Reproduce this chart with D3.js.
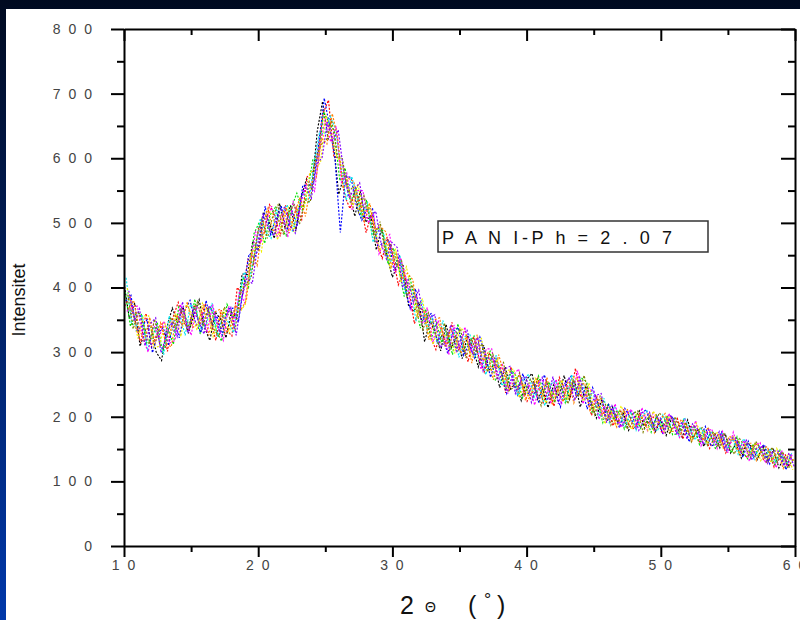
<!DOCTYPE html>
<html>
<head>
<meta charset="utf-8">
<script src="https://cdn.jsdelivr.net/npm/d3@7"></script>
<style>
  html, body { margin: 0; padding: 0; background: #000a22; }
  svg { display: block; }
</style>
</head>
<body>
<svg id="chart" width="800" height="620"></svg>
<script>
// ---- X-ray diffraction scans of PANI-Ph: intensity vs 2θ ----
// every scan is sampled on a 0.4° grid, each starting at its own small 2θ offset
const twoThetaStart = 10;
const twoThetaStep = 0.4;
const scanOffsets = [0, 0.04, 0.08, 0.12, 0.16, 0.20, 0.24, 0.28, 0.32, 0.36];
const scanColors = ["#000000", "#ff0000", "#00e000", "#0000ff", "#00e8f0",
                    "#ff00ff", "#f0f000", "#808000", "#ff8000", "#8000ff"];

const scanBlack = [
  407,352,376,309,335,339,300,287,339,368,
  346,370,329,357,381,338,318,362,351,322,
  362,352,421,420,472,457,517,502,476,530,
  492,527,487,540,568,553,642,688,630,626,
  544,573,548,510,549,501,511,458,492,449,
  416,435,434,372,363,377,316,348,330,302,
  343,307,324,290,326,307,277,311,271,282,
  245,277,243,252,225,258,267,227,243,214,
  249,232,264,227,254,215,248,222,198,227,
  193,215,191,207,179,196,209,182,202,177,
  195,171,198,184,168,195,167,181,154,171,
  176,152,174,144,158,136,160,153,134,156,
  131,149,121,138,121];
const scanRed = [
  371,386,348,314,360,308,327,344,301,353,
  377,346,334,373,341,375,352,318,365,334,
  325,400,389,444,436,495,482,528,512,479,
  527,492,524,505,571,579,603,670,690,602,
  601,542,522,551,529,485,515,470,445,476,
  449,404,425,396,344,368,363,324,304,339,
  309,346,300,316,285,324,292,269,299,279,
  276,237,277,241,256,224,237,260,222,244,
  216,261,242,230,275,230,236,202,231,203,
  215,186,206,211,186,181,207,185,195,203,
  177,197,179,197,166,184,186,160,171,151,
  172,172,144,161,167,144,137,155,158,134,
  149,122,141,143,124];
const scanGreen = [
  393,340,359,360,314,321,346,299,336,312,
  370,361,336,382,328,355,370,332,317,374,
  354,360,416,400,483,501,468,512,524,492,
  480,524,546,520,548,599,597,672,655,642,
  565,585,530,556,508,536,482,492,488,436,
  461,429,386,418,380,337,367,320,345,315,
  330,296,344,303,315,325,281,283,301,256,
  270,244,272,262,229,248,228,263,239,254,
  222,253,222,253,239,260,254,207,222,191,
  221,195,208,181,202,207,182,197,176,202,
  185,202,172,174,195,171,187,157,178,172,
  150,169,162,144,169,146,135,158,138,152,
  144,126,148,122,138];
const scanBlue = [
  379,388,333,340,350,299,329,338,310,350,
  322,364,380,346,330,380,342,356,326,367,
  368,346,402,452,446,465,526,482,506,526,
  486,518,496,558,558,561,625,693,650,600,
  485,573,570,526,504,522,522,462,470,474,
  426,450,400,368,398,351,355,360,317,325,
  298,332,338,295,313,291,323,295,261,290,
  268,236,262,234,267,234,254,221,265,240,
  242,215,252,263,231,244,212,245,220,197,
  219,204,183,213,199,182,205,211,183,200,
  175,193,200,172,187,161,184,167,185,155,
  157,176,148,168,160,137,162,137,150,157,
  127,142,144,118,142];
const scanCyan = [
  415,344,341,358,302,339,323,296,356,330,
  358,326,374,366,334,344,376,324,358,347,
  330,386,424,412,454,507,486,476,520,514,
  528,486,520,548,530,593,639,638,665,646,
  589,535,572,542,510,532,470,488,482,440,
  444,448,390,402,348,381,337,352,313,349,
  316,336,292,323,329,293,303,265,293,294,
  248,260,270,232,257,266,230,245,217,250,
  256,229,224,265,235,252,226,237,198,229,
  191,216,201,185,208,179,200,209,185,178,
  203,183,194,170,199,182,164,184,160,178,
  159,175,150,166,142,166,153,134,154,136,
  151,129,145,127,144];
const scanMagenta = [
  363,370,371,322,300,343,321,348,314,318,
  374,350,326,370,360,330,374,338,318,371,
  340,394,376,432,486,469,502,526,478,516,
  478,534,506,552,564,549,617,662,625,650,
  563,577,520,550,550,500,512,452,472,482,
  422,446,416,366,388,341,369,314,349,329,
  296,342,304,339,301,319,273,305,305,260,
  280,236,264,274,233,250,218,255,257,220,
  258,219,250,235,271,220,244,239,196,217,
  195,220,183,201,212,183,214,179,205,198,
  173,205,186,168,195,169,194,155,176,181,
  151,177,144,176,148,163,131,156,160,128,
  145,121,148,122,142];
const scanYellow = [
  399,362,321,356,356,307,309,344,326,360,
  324,374,360,334,376,362,324,350,366,329,
  366,362,374,450,464,455,518,516,474,508,
  524,486,530,524,576,585,593,668,635,604,
  591,559,524,560,514,528,498,456,474,428,
  460,408,432,392,356,383,331,312,343,325,
  328,298,338,331,293,311,321,273,273,290,
  254,272,274,230,251,228,260,249,221,238,
  232,257,226,261,257,224,252,209,216,189,
  213,188,217,197,180,205,198,179,209,192,
  177,201,190,172,191,165,190,173,158,174,
  175,151,160,170,144,159,141,160,132,144,
  129,151,128,140,118];
const scanOlive = [
  389,336,361,342,312,351,311,306,354,336,
  366,336,358,378,342,368,336,324,370,353,
  334,394,404,416,476,507,476,510,528,482,
  516,528,498,536,532,601,621,628,659,606,
  599,547,556,516,542,512,476,502,452,468,
  434,442,386,404,374,335,361,338,309,345,
  304,324,336,291,321,299,313,269,297,276,
  284,240,246,268,233,258,244,217,255,230,
  248,243,220,257,231,264,232,203,232,219,
  187,208,209,181,204,209,176,201,183,206,
  197,173,200,178,191,161,178,183,156,176,
  153,175,160,142,166,153,137,162,148,130,
  153,129,146,120,136];
const scanOrange = [
  367,380,337,316,354,313,345,314,308,358,
  342,378,338,344,374,326,362,366,328,339,
  372,366,380,454,434,497,522,486,502,520,
  484,514,540,510,562,569,631,622,669,632,
  553,569,564,528,502,530,490,494,486,432,
  452,414,422,412,354,365,319,350,353,309,
  336,320,298,327,283,327,287,299,257,296,
  266,242,258,264,225,244,258,231,261,218,
  244,223,258,221,247,252,210,227,228,195,
  207,184,205,211,184,187,202,205,175,194,
  205,177,178,196,183,163,182,163,184,162,
  169,149,170,162,140,159,159,132,148,154,
  133,145,120,142,132];
const scanViolet = [
  395,348,367,310,344,353,299,326,346,324,
  378,330,366,348,328,372,356,330,354,369,
  326,382,414,406,466,513,492,480,516,524,
  496,484,534,556,538,591,601,656,627,644,
  581,539,552,562,508,508,518,468,444,470,
  462,400,412,378,396,347,353,358,307,315,
  342,302,324,335,297,323,271,291,289,258,
  274,278,236,256,263,222,248,261,225,262,
  220,249,260,225,261,232,218,233,236,191,
  217,192,185,209,206,179,196,207,179,198,
  181,203,174,192,165,189,180,157,180,160,
  177,151,166,168,146,165,133,152,154,128,
  147,147,124,144,122];

const scans = [scanBlack, scanRed, scanGreen, scanBlue, scanCyan,
               scanMagenta, scanYellow, scanOlive, scanOrange, scanViolet];

// axis ticks
const xTicks = [10, 20, 30, 40, 50, 60];
const xMinorTicks = [15, 25, 35, 45, 55];
const yTicks = [0, 100, 200, 300, 400, 500, 600, 700, 800];
const yMinorTicks = [50, 150, 250, 350, 450, 550, 650, 750];
const sampleLabel = "P A N I-P h = 2 . 0 7";

// ---- layout ----
const W = 800, H = 620;
const plot = { left: 124, right: 795, top: 29, bottom: 546 };

const svg = d3.select("#chart");

// slide background: dark navy fading to blue, white page on top
const defs = svg.append("defs");
const bg = defs.append("linearGradient").attr("id", "bgGrad")
  .attr("x1", 0).attr("y1", 0).attr("x2", 0).attr("y2", 1);
bg.append("stop").attr("offset", "0%").attr("stop-color", "#000a20");
bg.append("stop").attr("offset", "100%").attr("stop-color", "#0038aa");
svg.append("rect").attr("width", W).attr("height", H).attr("fill", "url(#bgGrad)");
svg.append("rect").attr("x", 6).attr("y", 9).attr("width", W - 6).attr("height", H - 9)
  .attr("fill", "#ffffff");

defs.append("clipPath").attr("id", "plotClip")
  .append("rect")
  .attr("x", plot.left).attr("y", plot.top)
  .attr("width", plot.right - plot.left).attr("height", plot.bottom - plot.top);

const x = d3.scaleLinear().domain([10, 60]).range([plot.left, plot.right]);
const y = d3.scaleLinear().domain([0, 800]).range([plot.bottom, plot.top]);

// ---- scans as dotted lines ----
const lines = svg.append("g").attr("clip-path", "url(#plotClip)");
scans.forEach((vals, k) => {
  const line = d3.line()
    .x((d, i) => x(twoThetaStart + scanOffsets[k] + twoThetaStep * i))
    .y(d => y(d));
  lines.append("path")
    .datum(vals)
    .attr("d", line)
    .attr("fill", "none")
    .attr("stroke", scanColors[k])
    .attr("stroke-width", 1.15)
    .attr("stroke-dasharray", "2,1.6");
});

// ---- axes ----
const spaced = d => String(d).split("").join(" ");
const labelFont = "'Liberation Sans', Arial, sans-serif";

function styleAxis(g) {
  g.selectAll(".domain").attr("stroke", "#000").attr("stroke-width", 2);
  g.selectAll(".tick line").attr("stroke", "#000").attr("stroke-width", 2);
  g.selectAll(".tick text")
    .attr("fill", "#444")
    .style("font-family", labelFont)
    .style("font-size", "14px")
    .style("letter-spacing", "2px")
    .style("white-space", "pre");
}

// bottom
svg.append("g").attr("transform", `translate(0,${plot.bottom})`)
  .call(d3.axisBottom(x).tickValues(xTicks).tickSize(11).tickSizeOuter(0)
    .tickPadding(3).tickFormat(spaced))
  .call(styleAxis);
svg.append("g").attr("transform", `translate(0,${plot.bottom})`)
  .call(d3.axisBottom(x).tickValues(xMinorTicks).tickSize(6).tickFormat(""))
  .call(styleAxis).call(g => g.select(".domain").remove());

// left
svg.append("g").attr("transform", `translate(${plot.left},0)`)
  .call(d3.axisLeft(y).tickValues(yTicks).tickSize(13).tickSizeOuter(0)
    .tickPadding(17).tickFormat(spaced))
  .call(styleAxis);
svg.append("g").attr("transform", `translate(${plot.left},0)`)
  .call(d3.axisLeft(y).tickValues(yMinorTicks).tickSize(7).tickFormat(""))
  .call(styleAxis).call(g => g.select(".domain").remove());

// top (ticks point inward)
svg.append("g").attr("transform", `translate(0,${plot.top})`)
  .call(d3.axisBottom(x).tickValues(xTicks).tickSize(12).tickSizeOuter(0).tickFormat(""))
  .call(styleAxis);
svg.append("g").attr("transform", `translate(0,${plot.top})`)
  .call(d3.axisBottom(x).tickValues(xMinorTicks).tickSize(6).tickFormat(""))
  .call(styleAxis).call(g => g.select(".domain").remove());

// right (ticks point inward)
svg.append("g").attr("transform", `translate(${plot.right},0)`)
  .call(d3.axisLeft(y).tickValues(yTicks).tickSize(14).tickSizeOuter(0).tickFormat(""))
  .call(styleAxis);
svg.append("g").attr("transform", `translate(${plot.right},0)`)
  .call(d3.axisLeft(y).tickValues(yMinorTicks).tickSize(7).tickFormat(""))
  .call(styleAxis).call(g => g.select(".domain").remove());

// ---- axis titles ----
svg.append("text")
  .attr("transform", "translate(25,300) rotate(-90)")
  .attr("text-anchor", "middle")
  .style("font-family", labelFont)
  .style("font-size", "18px")
  .attr("fill", "#111")
  .text("Intensitet");

const xt = svg.append("g").style("font-family", labelFont).attr("fill", "#111");
xt.append("text").attr("x", 400).attr("y", 614).style("font-size", "25px").text("2");
xt.append("text").attr("x", 425).attr("y", 612).style("font-size", "14px").text("Θ");
xt.append("text").attr("x", 468).attr("y", 614).style("font-size", "25px").text("(");
xt.append("text").attr("x", 484).attr("y", 606).style("font-size", "18px").text("°");
xt.append("text").attr("x", 497).attr("y", 614).style("font-size", "25px").text(")");

// ---- sample label box ----
const box = svg.append("g");
box.append("rect")
  .attr("x", 438).attr("y", 221).attr("width", 270).attr("height", 31)
  .attr("fill", "#fff").attr("stroke", "#333").attr("stroke-width", 1.5);
box.append("text")
  .attr("x", 442).attr("y", 244)
  .style("font-family", labelFont)
  .style("font-size", "18px")
  .style("letter-spacing", "3.6px")
  .style("white-space", "pre")
  .attr("fill", "#111")
  .text(sampleLabel);
</script>
</body>
</html>
